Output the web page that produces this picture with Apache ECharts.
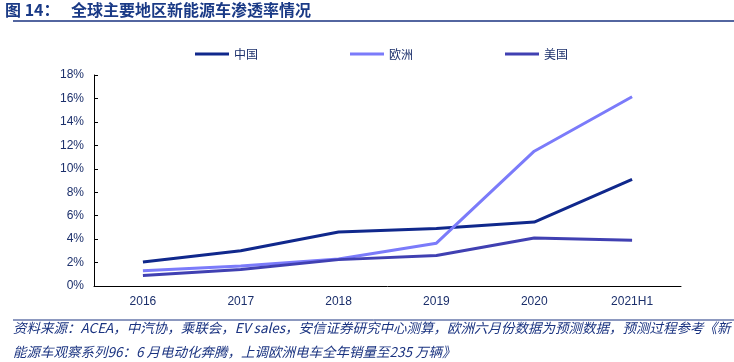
<!DOCTYPE html>
<html>
<head>
<meta charset="utf-8">
<script src="https://cdn.jsdelivr.net/npm/echarts@6/dist/echarts.min.js"></script>
<style>
html,body{margin:0;padding:0;background:#fff;}
#c{width:734px;height:362px;}
</style>
</head>
<body>
<div id="c"></div>
<script>
var categories = ['2016', '2017', '2018', '2019', '2020', '2021H1'];
var seriesNames = ['中国', '欧洲', '美国'];
var chinaValues = [2.05, 3.0, 4.6, 4.9, 5.45, 9.1];
var europeValues = [1.3, 1.7, 2.3, 3.65, 11.5, 16.15];
var usValues = [0.9, 1.4, 2.25, 2.6, 4.1, 3.9];
var yTicks = [0, 2, 4, 6, 8, 10, 12, 14, 16, 18];

var navy = '#1b2f6b';
var latin = '"Liberation Sans", Arial, "Noto Sans CJK SC", sans-serif';
var cjk = '"Noto Sans CJK SC", "Liberation Sans", sans-serif';
var colors = ['#10288c', '#7b7bfa', '#4040b2'];

var chart = echarts.init(document.getElementById('c'), null, {renderer: 'canvas'});
var option = {
  animation: false,
  backgroundColor: '#fff',
  color: colors,
  grid: {left: 94, right: 53, top: 75, bottom: 76, containLabel: false},
  legend: {
    top: 43, left: 190, itemGap: 92, itemWidth: 34, itemHeight: 3,
    icon: 'rect',
    textStyle: {color: navy, fontSize: 12, fontFamily: cjk},
    data: seriesNames
  },
  xAxis: {
    type: 'category',
    data: categories,
    boundaryGap: true,
    axisLine: {lineStyle: {color: '#000', width: 1}},
    axisTick: {inside: true, length: 4, lineStyle: {color: '#000'}},
    axisLabel: {color: navy, fontSize: 12, fontFamily: latin, margin: 10},
    splitLine: {show: false}
  },
  yAxis: {
    type: 'value',
    min: yTicks[0], max: yTicks[yTicks.length - 1], interval: 2,
    axisLine: {show: true, lineStyle: {color: '#000', width: 1}},
    axisTick: {show: true, inside: true, length: 4, lineStyle: {color: '#000'}},
    axisLabel: {color: navy, fontSize: 12, fontFamily: latin, margin: 10, formatter: '{value}%'},
    splitLine: {show: false}
  },
  series: [
    {name: seriesNames[0], type: 'line', data: chinaValues, symbol: 'none', lineStyle: {width: 3, color: colors[0]}},
    {name: seriesNames[1], type: 'line', data: europeValues, symbol: 'none', lineStyle: {width: 3, color: colors[1]}},
    {name: seriesNames[2], type: 'line', data: usValues, symbol: 'none', lineStyle: {width: 3, color: colors[2]}}
  ],
  graphic: [
    {type: 'text', left: 5, top: 2, style: {text: '图 14：', font: 'bold 16px ' + cjk, fill: '#1a3a86'}},
    {type: 'text', left: 71, top: 2, style: {text: '全球主要地区新能源车渗透率情况', font: 'bold 16px ' + cjk, fill: '#1a3a86'}},
    {type: 'line', shape: {x1: 13, y1: 21, x2: 734, y2: 21}, style: {stroke: '#1a3380', lineWidth: 1.5}},
    {type: 'line', shape: {x1: 13, y1: 320, x2: 734, y2: 320}, style: {stroke: '#1a3380', lineWidth: 1}},
    {type: 'text', left: 13, top: 316, style: {
      text: '资料来源：ACEA，中汽协，乘联会，EV sales，安信证券研究中心测算，欧洲六月份数据为预测数据，预测过程参考《新\n能源车观察系列96：6 月电动化奔腾，上调欧洲电车全年销量至235 万辆》',
      font: 'italic 13.5px ' + cjk, fill: '#1a3380', lineHeight: 24}}
  ]
};
chart.setOption(option);
</script>
</body>
</html>
